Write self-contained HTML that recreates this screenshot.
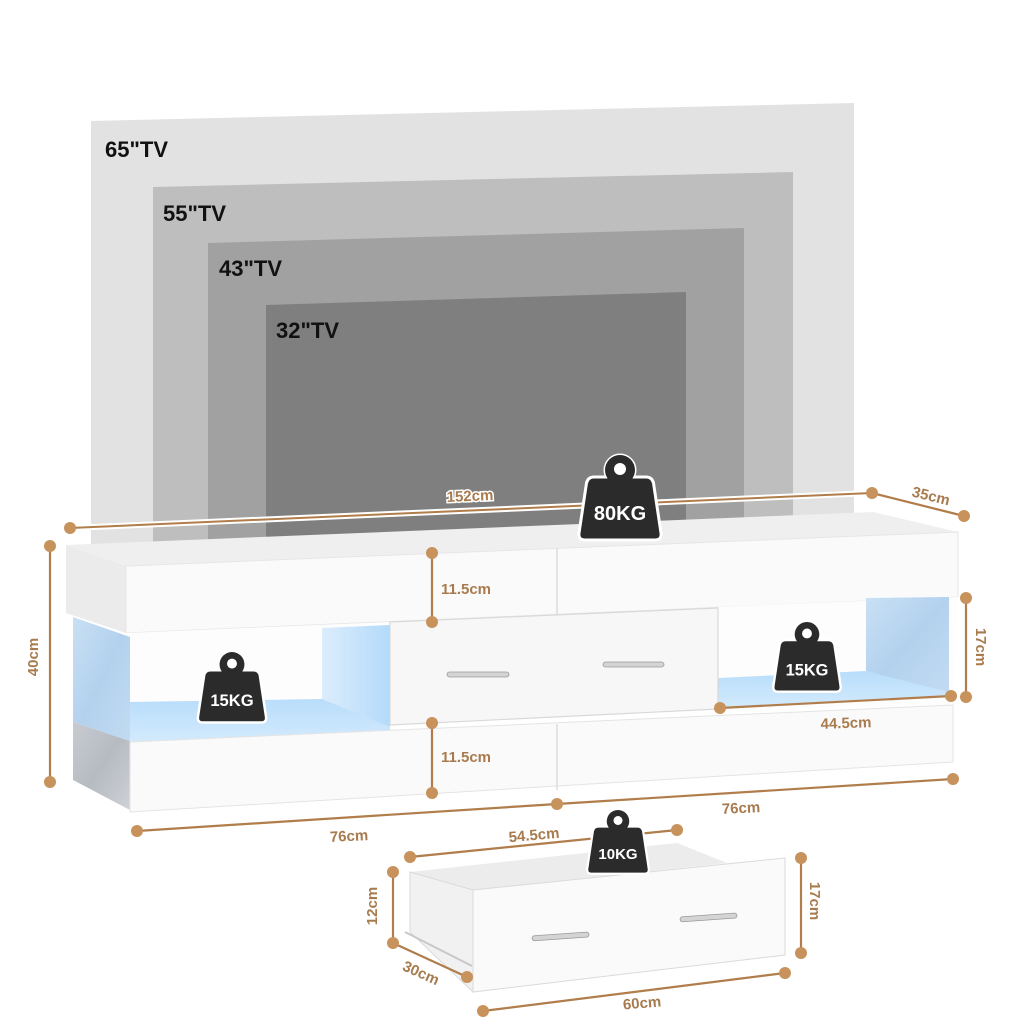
<!DOCTYPE html>
<html><head><meta charset="utf-8"><style>
html,body{margin:0;padding:0;background:#fff;}
svg{display:block;}
text{font-family:"Liberation Sans",sans-serif;}
</style></head><body>
<svg width="1024" height="1024" viewBox="0 0 1024 1024" xmlns="http://www.w3.org/2000/svg">
<defs>
<linearGradient id="gBlue" x1="0" y1="0" x2="1" y2="1">
<stop offset="0" stop-color="#c9e0f4"/><stop offset="0.5" stop-color="#b3d1ee"/><stop offset="1" stop-color="#c2dbf1"/>
</linearGradient>
<linearGradient id="gGray" x1="0" y1="0" x2="1" y2="1">
<stop offset="0" stop-color="#c8ccd1"/><stop offset="0.5" stop-color="#b6bbc2"/><stop offset="1" stop-color="#ced1d5"/>
</linearGradient>
<linearGradient id="gLight" x1="0" y1="0" x2="1" y2="0">
<stop offset="0" stop-color="#dcedfc"/><stop offset="1" stop-color="#b3dafa"/>
</linearGradient>
<linearGradient id="gFloor" x1="0" y1="0" x2="0" y2="1">
<stop offset="0" stop-color="#b8ddfb"/><stop offset="1" stop-color="#d3eafc"/>
</linearGradient>
<g id="wt">
<circle cx="0" cy="15" r="15" fill="#2b2b2b" stroke="#fff" stroke-width="3"/>
<path d="M -26,22 L 26,22 Q 32,22 33.5,28 L 41,78 Q 42,85 35,85 L -35,85 Q -42,85 -41,78 L -33.5,28 Q -32,22 -26,22 Z" fill="#2b2b2b" stroke="#fff" stroke-width="3"/>
<circle cx="0" cy="15" r="15" fill="#2b2b2b"/>
<rect x="-10" y="20" width="20" height="6" fill="#2b2b2b"/>
<circle cx="0" cy="14" r="6" fill="#fff"/>
</g>
</defs>

<!-- TVs -->
<polygon points="91,121 854,103 854,515 91,546" fill="#e2e2e2"/>
<polygon points="153,187 793,172 793,518 153,544" fill="#bebebe"/>
<polygon points="208,243 744,228 744,520 208,542" fill="#a1a1a1"/>
<polygon points="266,305 686,292 686,523 266,540" fill="#7f7f7f"/>
<text x="105" y="157" font-size="22" font-weight="bold" fill="#111">65"TV</text>
<text x="163" y="221" font-size="22" font-weight="bold" fill="#111">55"TV</text>
<text x="219" y="276" font-size="22" font-weight="bold" fill="#111">43"TV</text>
<text x="276" y="338" font-size="22" font-weight="bold" fill="#111">32"TV</text>

<!-- Cabinet top block -->
<polygon points="66,545 873,512 958,532 126,566" fill="#efefef"/>
<polygon points="66,545 126,566 126,633 66,613" fill="#ebebeb"/>
<polygon points="126,566 958,532 958,597 126,633" fill="#fafafa" stroke="#e6e6e6" stroke-width="1"/>
<line x1="557" y1="548" x2="557" y2="615" stroke="#dcdcdc" stroke-width="1.5"/>

<!-- Left compartment -->
<polygon points="126,633 390,622 390,735 126,742" fill="#fdfdfd"/>
<polygon points="322,628 390,625 390,727 322,700" fill="url(#gLight)"/>
<polygon points="130,702 322,699 390,727 390,735 130,742" fill="url(#gFloor)"/>
<!-- Left glass -->
<polygon points="73,617 130,637 130,741 73,722" fill="url(#gBlue)"/>
<polygon points="73,722 130,741 130,810 73,780" fill="url(#gGray)"/>

<!-- Right compartment -->
<polygon points="718,607 958,597 953,705 718,709" fill="#fdfdfd"/>
<polygon points="718,678 866,671 949,690 949,697 718,708" fill="url(#gFloor)"/>
<polygon points="866,598 949,597 949,692 866,671" fill="url(#gBlue)"/>

<!-- Middle drawer -->
<polygon points="390,622 718,608 718,709 390,725" fill="#f7f7f7" stroke="#d9d9d9" stroke-width="1.2"/>
<rect x="447" y="672" width="62" height="5" rx="2.5" fill="#d4d4d4" stroke="#9a9a9a" stroke-width="0.8"/>
<rect x="603" y="662" width="61" height="5" rx="2.5" fill="#d4d4d4" stroke="#9a9a9a" stroke-width="0.8"/>

<!-- Lower block -->
<polygon points="130,742 953,705 953,762 130,812" fill="#fafafa" stroke="#e4e4e4" stroke-width="1"/>
<line x1="557" y1="724" x2="557" y2="790" stroke="#dcdcdc" stroke-width="1.5"/>

<!-- Drawer -->
<polygon points="410,872 677,843 727,863 473,890" fill="#ececec"/>
<polygon points="410,872 473,890 473,992 410,932" fill="#f1f1f1" stroke="#dadada" stroke-width="1"/>
<line x1="405" y1="932" x2="472" y2="966" stroke="#c8c8c8" stroke-width="2"/>
<polygon points="473,890 785,858 785,955 473,992" fill="#fafafa" stroke="#dadada" stroke-width="1"/>
<rect x="532" y="934" width="57" height="5" rx="2.5" fill="#d4d4d4" stroke="#9a9a9a" stroke-width="0.8" transform="rotate(-4 560 936)"/>
<rect x="680" y="915" width="57" height="5" rx="2.5" fill="#d4d4d4" stroke="#9a9a9a" stroke-width="0.8" transform="rotate(-4 708 917)"/>

<!-- Dimension lines -->
<g stroke-linecap="round">
<line x1="70" y1="528" x2="872" y2="493" stroke="#fff" stroke-width="6"/>
<line x1="70" y1="528" x2="872" y2="493" stroke="#b07d4b" stroke-width="2"/>
</g>
<g stroke="#b07d4b" stroke-width="2.2" fill="none">
<line x1="872" y1="493" x2="964" y2="516"/>
<line x1="50" y1="546" x2="50" y2="782"/>
<line x1="432" y1="553" x2="432" y2="622"/>
<line x1="432" y1="723" x2="432" y2="793"/>
<line x1="966" y1="598" x2="966" y2="697"/>
<line x1="720" y1="708" x2="951" y2="696"/>
<line x1="137" y1="831" x2="557" y2="804"/>
<line x1="557" y1="804" x2="953" y2="779"/>
<line x1="410" y1="857" x2="677" y2="830"/>
<line x1="393" y1="872" x2="393" y2="943"/>
<line x1="393" y1="943" x2="467" y2="977"/>
<line x1="483" y1="1011" x2="785" y2="973"/>
<line x1="801" y1="858" x2="801" y2="953"/>
</g>
<g fill="#c8925d">
<circle cx="70" cy="528" r="6"/><circle cx="872" cy="493" r="6"/><circle cx="964" cy="516" r="6"/>
<circle cx="50" cy="546" r="6"/><circle cx="50" cy="782" r="6"/>
<circle cx="432" cy="553" r="6"/><circle cx="432" cy="622" r="6"/>
<circle cx="432" cy="723" r="6"/><circle cx="432" cy="793" r="6"/>
<circle cx="966" cy="598" r="6"/><circle cx="966" cy="697" r="6"/>
<circle cx="720" cy="708" r="6"/><circle cx="951" cy="696" r="6"/>
<circle cx="137" cy="831" r="6"/><circle cx="557" cy="804" r="6"/><circle cx="953" cy="779" r="6"/>
<circle cx="410" cy="857" r="6"/><circle cx="677" cy="830" r="6"/>
<circle cx="393" cy="872" r="6"/><circle cx="393" cy="943" r="6"/><circle cx="467" cy="977" r="6"/>
<circle cx="483" cy="1011" r="6"/><circle cx="785" cy="973" r="6"/>
<circle cx="801" cy="858" r="6"/><circle cx="801" cy="953" r="6"/>
</g>

<!-- Dimension labels -->
<g font-size="15" font-weight="bold" fill="#a87b4e" text-anchor="middle">
<text x="470" y="501" transform="rotate(-2.5 470 496)" stroke="#fff" stroke-width="3" paint-order="stroke" font-size="15">152cm</text>
<text x="931" y="501" transform="rotate(14 931 496)">35cm</text>
<text x="466" y="594">11.5cm</text>
<text x="466" y="762">11.5cm</text>
<text x="846" y="728" transform="rotate(-2 846 723)">44.5cm</text>
<text x="349" y="841" transform="rotate(-3 349 836)">76cm</text>
<text x="741" y="813" transform="rotate(-3 741 808)">76cm</text>
<text x="534" y="840" transform="rotate(-5 534 835)">54.5cm</text>
<text x="421" y="978" transform="rotate(24 421 973)">30cm</text>
<text x="642" y="1008" transform="rotate(-5 642 1003)">60cm</text>
<text x="33" y="662" transform="rotate(-90 33 657)">40cm</text>
<text x="981" y="652" transform="rotate(90 981 647)">17cm</text>
<text x="372" y="911" transform="rotate(-90 372 906)">12cm</text>
<text x="815" y="906" transform="rotate(90 815 901)">17cm</text>
</g>

<!-- Weights -->
<g transform="translate(620 455)">
<use href="#wt"/>
<text x="0" y="65" font-size="20" font-weight="bold" fill="#fff" text-anchor="middle">80KG</text>
</g>
<g transform="translate(232 652) scale(0.83)">
<use href="#wt"/>
<text x="0" y="65" font-size="20" font-weight="bold" fill="#fff" text-anchor="middle">15KG</text>
</g>
<g transform="translate(807 622) scale(0.82)">
<use href="#wt"/>
<text x="0" y="65" font-size="20" font-weight="bold" fill="#fff" text-anchor="middle">15KG</text>
</g>
<g transform="translate(618 810) scale(0.75)">
<use href="#wt"/>
<text x="0" y="65" font-size="20" font-weight="bold" fill="#fff" text-anchor="middle">10KG</text>
</g>
</svg>
</body></html>
